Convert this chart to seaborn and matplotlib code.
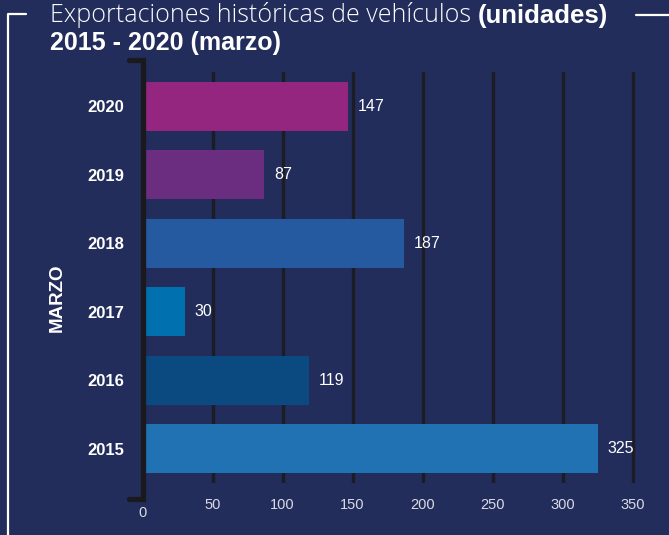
import numpy as np
import pandas as pd
import seaborn as sns
import matplotlib.pyplot as plt
from matplotlib.lines import Line2D
from matplotlib.transforms import ScaledTranslation

years = ['2020', '2019', '2018', '2017', '2016', '2015']
units = [147, 87, 187, 30, 119, 325]
bar_colors = ['#942680', '#6b2d80', '#2559a0', '#0070ae', '#0b4a80', '#2172b3']
x_ticks = [0, 50, 100, 150, 200, 250, 300, 350]

bg = '#222d5b'
grid_col = '#1b1c24'

sns.set_theme(style='white')
plt.rcParams['font.family'] = ['Liberation Sans', 'DejaVu Sans']

df = pd.DataFrame({'year': years, 'units': units})

fig = plt.figure(figsize=(6.69, 5.35), dpi=100, facecolor=bg)
ax = fig.add_axes([142.5 / 669, 1 - 483 / 535, 504 / 669, 411 / 535])
ax.set_facecolor(bg)

sns.barplot(data=df, x='units', y='year', hue='year', order=years, hue_order=years,
            palette=bar_colors, orient='h', width=0.72, legend=False,
            saturation=1, linewidth=0, edgecolor='none', ax=ax, zorder=3)

ax.set_xlim(0, 360)
ax.set_ylim(5.5, -0.5)
ax.set_xticks(x_ticks)
ax.set_xlabel('')
ax.set_ylabel('')
for s in ax.spines.values():
    s.set_visible(False)

# vertical grid lines (not at 0)
for v in x_ticks[1:]:
    ax.axvline(v, color=grid_col, lw=2.4, zorder=1)

ax.tick_params(axis='x', length=0, pad=11, labelsize=10.5, labelcolor='#d9dbe3')
ax.tick_params(axis='y', length=0, pad=13, labelsize=12, labelcolor='white')
for lab in ax.get_yticklabels():
    lab.set_fontweight('bold')
for lab in ax.get_xticklabels():
    lab.set_fontweight('light')
# the "0" label sits lower
zero = ax.get_xticklabels()[0]
zero.set_transform(zero.get_transform() + ScaledTranslation(0, -8 / 100, fig.dpi_scale_trans))

# bracket-shaped axis line
ax.plot([-10, 0, 0, -10], [-0.68, -0.68, 5.73, 5.73], color='#1a1a1e', lw=3.8,
        solid_joinstyle='miter', clip_on=False, zorder=4)

# value labels
for i, v in enumerate(units):
    ax.text(v + 7, i, str(v), va='center', ha='left', color='white',
            fontsize=11.5, fontweight='light', zorder=5)

# axis title
fig.text(57 / 669, 1 - 298 / 535, 'MARZO', rotation=90, ha='center', va='center',
         color='white', fontsize=13.5, fontweight='bold')

# chart title
t1 = fig.text(50 / 669, 1 - 22 / 535, 'Exportaciones históricas de vehículos ',
              color='white', fontsize=18, fontweight='light', va='baseline',
              family=['Open Sans', 'Roboto', 'Liberation Sans', 'DejaVu Sans'])
ax.annotate('(unidades)', xy=(1, 0), xycoords=t1, va='bottom', ha='left',
            color='white', fontsize=18.5, fontweight='bold')
fig.text(50 / 669, 1 - 50 / 535, '2015 - 2020 (marzo)', color='white',
         fontsize=18, fontweight='bold', va='baseline')

# white frame pieces
frame = dict(color='white', lw=1.6, transform=fig.transFigure)
fig.add_artist(Line2D([26 / 669, 7.5 / 669, 7.5 / 669], [1 - 14 / 535, 1 - 14 / 535, 0], **frame))
fig.add_artist(Line2D([636 / 669, 1], [1 - 15 / 535, 1 - 15 / 535], **frame))

fig.savefig('out.png', dpi=100, facecolor=bg)
